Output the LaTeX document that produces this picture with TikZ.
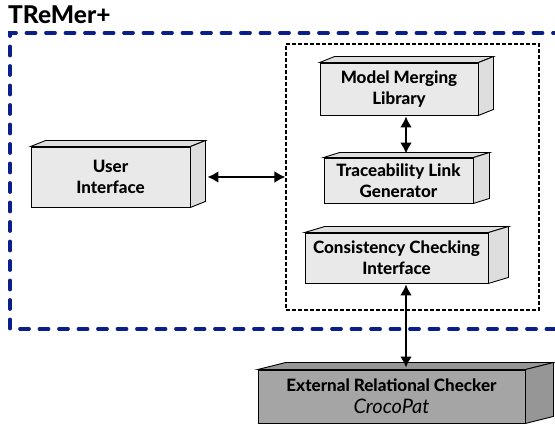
\documentclass[tikz,border=0pt]{standalone}
\usepackage{fontspec}
\setmainfont{Lato}[BoldFont={Lato Heavy},BoldItalicFont={Lato Heavy Italic}]
\usetikzlibrary{arrows.meta,calc}
\definecolor{boxgray}{RGB}{233,233,233}
\definecolor{sidegray}{RGB}{222,222,222}
\definecolor{extgray}{RGB}{165,165,165}
\definecolor{extside}{RGB}{150,150,150}
\definecolor{tremerblue}{RGB}{10,30,140}
\tikzset{
  cube/.style={draw=black, line width=0.9pt, fill=boxgray, align=center, inner sep=0pt,
    font=\fontsize{17}{21}\selectfont\bfseries},
  arr/.style={line width=2.8pt, {Latex[length=11pt,width=12pt]}-{Latex[length=11pt,width=12pt]}},
  bluedash/.style={draw=tremerblue, line width=3.8pt, line cap=round, dash pattern=on 9pt off 10.5pt},
  innerdash/.style={draw=black, line width=1.1pt, dash pattern=on 4pt off 2pt},
}
\newcommand{\sidefaces}[4]{% node, dx, dy, fill
  \draw[line width=0.9pt, fill=#4] (#1.north west) -- ++(#2,#3) -- ($(#1.north east)+(#2,#3)$) -- (#1.north east) -- cycle;
  \draw[line width=0.9pt, fill=#4] (#1.north east) -- ++(#2,#3) -- ($(#1.south east)+(#2,#3)$) -- (#1.south east) -- cycle;
}
\begin{document}
\begin{tikzpicture}[x=1pt,y=1pt]
\useasboundingbox (0,0) rectangle (555,427);
% title
\node[anchor=base west, inner sep=0pt, font=\fontsize{24.5}{24}\selectfont\bfseries] (title) at (8,403) {TReMer+};
% outer blue dashed frame
\draw[bluedash] (575,98) -- (10,98) -- (10,394) -- (575,394);
% inner dashed box
\node[innerdash, minimum width=253pt, minimum height=266pt, inner sep=0pt] (inner) at (412.5,250) {};
% boxes
\node[cube, minimum width=158pt, minimum height=52pt] (mml) at (399,338) {Model Merging\\Library};
\sidefaces{mml}{15}{6}{sidegray}
\node[cube, minimum width=149pt, minimum height=45pt] (tlg) at (398.5,246.5) {Traceability Link\\Generator};
\sidefaces{tlg}{16}{5}{sidegray}
\node[cube, minimum width=183pt, minimum height=50pt] (cci) at (396.5,169) {Consistency Checking\\Interface};
\sidefaces{cci}{20}{6}{sidegray}
\node[cube, minimum width=159pt, minimum height=60pt] (ui) at (110.5,250) {User\\Interface};
\sidefaces{ui}{15}{6}{sidegray}
\node[cube, fill=extgray, minimum width=267pt, minimum height=53pt, font=\fontsize{17}{22}\selectfont\bfseries] (erc) at (391.5,30.5)
  {External Relational Checker\\{\fontsize{20}{22}\selectfont\mdseries\itshape CrocoPat}};
\sidefaces{erc}{28}{7}{extside}
% connectors
\coordinate (ax) at (406,0);
\draw[arr] ($(mml.south -| ax)+(0,-1)$) -- ($(tlg.north -| ax)+(0,4)$);
\draw[arr] ($(ui.east)+(17,0)$) -- (inner.west);
\draw[arr] ($(cci.south -| ax)+(0,-1)$) -- ($(erc.north -| ax)+(0,2)$);
\end{tikzpicture}
\end{document}
